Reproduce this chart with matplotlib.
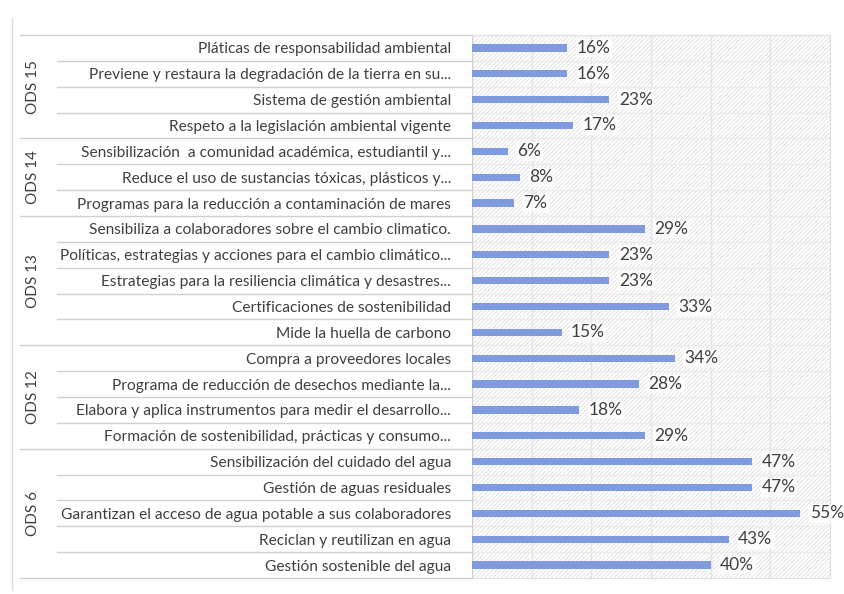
import matplotlib
matplotlib.use("Agg")
import matplotlib.pyplot as plt
from matplotlib.patches import Rectangle
from matplotlib.transforms import blended_transform_factory

plt.rcParams['font.family'] = ['Lato', 'DejaVu Sans']
plt.rcParams['hatch.color'] = '#d9d9d9'
plt.rcParams['hatch.linewidth'] = 0.5

groups = ['ODS 15', 'ODS 14', 'ODS 13', 'ODS 12', 'ODS 6']
group_sizes = [4, 3, 5, 4, 5]
labels = [
    'Pláticas de responsabilidad ambiental',
    'Previene y restaura la degradación de la tierra en su...',
    'Sistema de gestión ambiental',
    'Respeto a la legislación ambiental vigente',
    'Sensibilización  a comunidad académica, estudiantil y...',
    'Reduce el uso de sustancias tóxicas, plásticos y...',
    'Programas para la reducción a contaminación de mares',
    'Sensibiliza a colaboradores sobre el cambio climatico.',
    'Políticas, estrategias y acciones para el cambio climático...',
    'Estrategias para la resiliencia climática y desastres...',
    'Certificaciones de sostenibilidad',
    'Mide la huella de carbono',
    'Compra a proveedores locales',
    'Programa de reducción de desechos mediante la...',
    'Elabora y aplica instrumentos para medir el desarrollo...',
    'Formación de sostenibilidad, prácticas y consumo...',
    'Sensibilización del cuidado del agua',
    'Gestión de aguas residuales',
    'Garantizan el acceso de agua potable a sus colaboradores',
    'Reciclan y reutilizan en agua',
    'Gestión sostenible del agua',
]
values = [16, 16, 23, 17, 6, 8, 7, 29, 23, 23, 33, 15, 34, 28, 18, 29, 47, 47, 55, 43, 40]

text_col = '#404040'
line_col = '#d0d0d0'

fig = plt.figure(figsize=(8.44, 5.94), dpi=100)
ax = fig.add_axes([472/844, 1 - 578/594, 358/844, (578 - 35)/594])

n = len(values)
ypos = list(range(n))

# hatched plot area
ax.add_patch(Rectangle((0, 0), 1, 1, transform=ax.transAxes, facecolor='white',
                       hatch='////////', linewidth=0, zorder=0))

ax.barh(ypos, values, height=0.28, color='#7f9ade', zorder=3)
for y, v in zip(ypos, values):
    ax.text(v + 1.6, y, f'{v}%', va='center', ha='left', fontsize=12.5,
            color=text_col, zorder=4,
            bbox=dict(facecolor='white', edgecolor='none', pad=1.0, alpha=0.7))

ax.set_xlim(0, 60)
ax.set_ylim(n - 0.5, -0.5)
ax.set_xticks(range(0, 61, 10))
ax.set_xticklabels([])
ax.set_yticks(ypos)
ax.set_yticklabels(labels, fontsize=11.2, color=text_col)
ax.tick_params(axis='y', length=0, pad=15)
ax.tick_params(axis='x', length=0)
ax.set_yticks([k - 0.5 for k in range(n + 1)], minor=True)
ax.tick_params(axis='y', which='minor', length=0)
ax.grid(axis='x', color='#e4e4e4', linewidth=1, zorder=1)
ax.grid(axis='y', which='minor', color='#ececec', linewidth=1, zorder=1)
ax.set_axisbelow(True)
for s in ax.spines.values():
    s.set_color('#e0e0e0')
ax.spines['left'].set_color(line_col)

# category table lines and group labels
tr = blended_transform_factory(fig.transFigure, ax.transData)
start = 0
ax.plot([20/844, 472/844], [-0.5, -0.5], transform=tr, color=line_col, lw=1, clip_on=False)
for g, size in zip(groups, group_sizes):
    for k in range(start + 1, start + size):
        ax.plot([57/844, 472/844], [k - 0.5, k - 0.5], transform=tr,
                color=line_col, lw=1, clip_on=False)
    end = start + size
    ax.plot([20/844, 472/844], [end - 0.5, end - 0.5], transform=tr,
            color=line_col, lw=1, clip_on=False)
    ax.text(33/844, (start + end - 1) / 2, g, transform=tr, rotation=90,
            ha='center', va='center', fontsize=11, color=text_col)
    start = end

fig.add_artist(plt.Line2D([12/844, 12/844], [1 - 590/594, 1 - 18/594],
                          transform=fig.transFigure, color='#dcdcdc', lw=1))

fig.savefig('out.png', dpi=100)
